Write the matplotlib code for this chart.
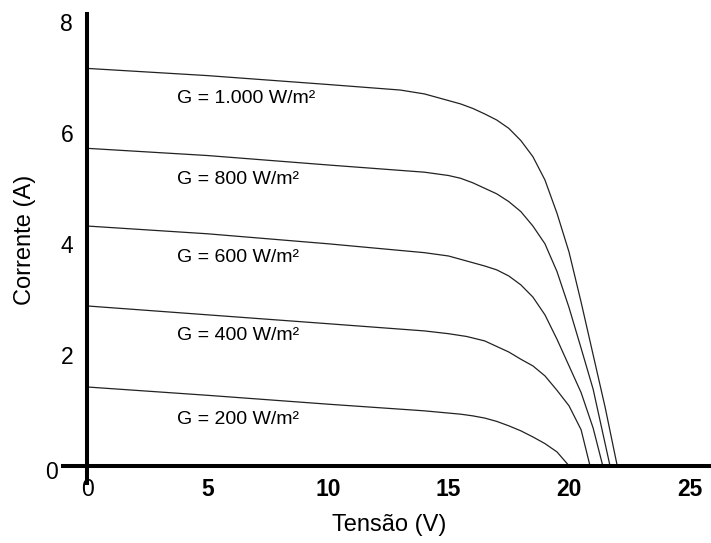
import matplotlib
matplotlib.use("Agg")
import matplotlib.pyplot as plt
import matplotlib.transforms as mtransforms

plt.rcParams['font.family'] = ['Liberation Sans', 'DejaVu Sans']

# curvas I-V (tensao em V, corrente em A)
v_1000 = [0, 5, 10, 13, 14, 15, 15.5, 16, 16.5, 17, 17.5, 18, 18.5, 19, 19.5, 20, 20.5, 21, 21.5, 22.0]
i_1000 = [7.16, 7.03, 6.87, 6.77, 6.70, 6.58, 6.52, 6.44, 6.34, 6.23, 6.08, 5.86, 5.57, 5.15, 4.55, 3.85, 2.95, 2.00, 1.05, 0]

v_800 = [0, 5, 10, 14, 15, 15.5, 16, 16.5, 17, 17.5, 18, 18.5, 19, 19.5, 20, 20.5, 21, 21.7]
i_800 = [5.72, 5.59, 5.42, 5.29, 5.23, 5.18, 5.10, 5.00, 4.90, 4.76, 4.58, 4.32, 4.00, 3.50, 2.85, 2.12, 1.38, 0]

v_600 = [0, 5, 10, 14, 15, 15.5, 16, 16.5, 17, 17.5, 18, 18.5, 19, 19.5, 20, 20.5, 21, 21.4]
i_600 = [4.32, 4.18, 4.00, 3.84, 3.78, 3.72, 3.66, 3.60, 3.53, 3.42, 3.26, 3.04, 2.72, 2.28, 1.80, 1.32, 0.68, 0]

v_400 = [0, 5, 10, 14, 15, 15.75, 16.5, 17, 17.5, 18, 18.5, 19, 19.5, 20, 20.5, 20.87]
i_400 = [2.88, 2.72, 2.56, 2.43, 2.38, 2.33, 2.25, 2.15, 2.05, 1.92, 1.80, 1.62, 1.36, 1.08, 0.65, 0]

v_200 = [0, 5, 10, 14, 15, 15.5, 16, 16.5, 17, 17.5, 18, 18.5, 19, 19.5, 20.0]
i_200 = [1.42, 1.27, 1.11, 0.99, 0.95, 0.93, 0.90, 0.86, 0.80, 0.72, 0.63, 0.52, 0.40, 0.25, 0]

curvas = [(v_1000, i_1000), (v_800, i_800), (v_600, i_600), (v_400, i_400), (v_200, i_200)]
rotulos = ["G = 1.000 W/m²", "G = 800 W/m²", "G = 600 W/m²", "G = 400 W/m²", "G = 200 W/m²"]
pos_rotulos = [6.61, 5.15, 3.75, 2.34, 0.83]

x_ticks = [0, 5, 10, 15, 20, 25]
y_ticks = [0, 2, 4, 6, 8]

fig = plt.figure(figsize=(7.11, 5.43), dpi=100)
ax = fig.add_axes([0.0886, 0.1105, 0.91, 0.8637])

for v, i in curvas:
    ax.plot(v, i, color='#222222', lw=0.9)

for txt, y in zip(rotulos, pos_rotulos):
    ax.text(3.73, y, txt, fontsize=14, ha='left', va='center', color='black')

ax.set_xlim(-1.0, 25.85)
ax.set_ylim(-0.31, 8.14)

ax.spines['left'].set_position(('data', 0))
ax.spines['bottom'].set_position(('data', 0))
ax.spines['right'].set_visible(False)
ax.spines['top'].set_visible(False)
ax.spines['left'].set_linewidth(2.9)
ax.spines['bottom'].set_linewidth(2.9)

ax.set_xticks(x_ticks)
ax.set_yticks(y_ticks)
ax.tick_params(axis='both', length=0)
ax.tick_params(axis='x', pad=9, labelsize=16.5)
ax.tick_params(axis='y', pad=10, labelsize=16.5)
for lb in ax.get_xticklabels()[1:]:
    lb.set_fontweight('bold')

# o "0" do eixo y fica a esquerda do prolongamento do eixo x
zero = ax.get_yticklabels()[0]
zero.set_transform(zero.get_transform() +
                   mtransforms.ScaledTranslation(-11 / 72, -3 / 72, fig.dpi_scale_trans))

fig.text(0.547, 1 - 525 / 543, "Tensão (V)", fontsize=17, ha='center', va='center')
fig.text(0.035, 1 - 240 / 543, "Corrente (A)", fontsize=17, ha='center', va='center',
         rotation=90)

fig.savefig("out.png", dpi=100)
